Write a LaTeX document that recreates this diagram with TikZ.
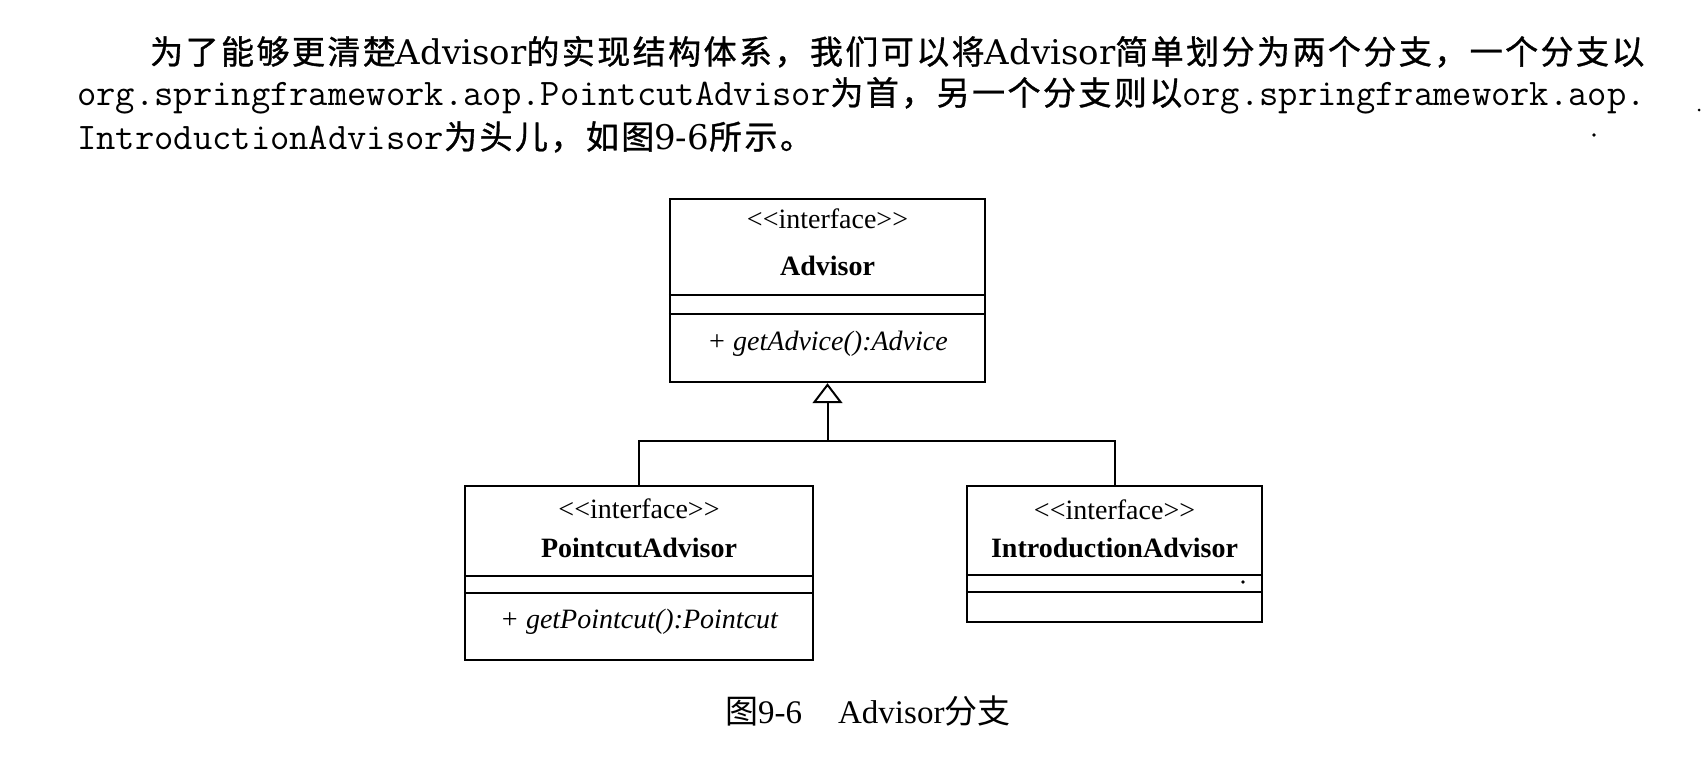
\documentclass[tikz,border=0pt]{standalone}
\usepackage{fontspec}
\setmainfont{Liberation Serif}
\newfontfamily\cjk{Noto Sans CJK SC}
\newfontfamily\cjkw[LetterSpace=7.4, FakeBold=1]{Noto Sans CJK SC}
\newfontfamily\latfam{DejaVu Serif}
\newcommand\monotxt[1]{{\ttfamily\fontsize{37.5}{40}\selectfont #1}}
\newcommand\lattxt[1]{{\latfam\fontsize{34}{38}\selectfont #1}}
\usetikzlibrary{arrows.meta}
\tikzset{
  para/.style={anchor=base west, inner sep=0pt, font=\fontsize{33}{38}\selectfont},
  umlbox/.style={draw, line width=2.4pt, inner sep=0pt, rectangle},
  sepline/.style={line width=1.6pt},
  conn/.style={line width=2pt},
  utext/.style={inner sep=0pt, font=\fontsize{28}{33}\selectfont},
  captext/.style={anchor=base west, inner sep=0pt, font=\fontsize{33}{40}\selectfont},
}
\begin{document}
\begin{tikzpicture}[x=1pt, y=-1pt]
\fill[white] (0,0) rectangle (1704,772);
\useasboundingbox (0,0) rectangle (1704,772);

% paragraph text
\node[para] (l1) at (150,64) {{\cjkw 为了能够更清楚}\lattxt{Advisor}{\cjkw 的实现结构体系，我们可以将}\lattxt{Advisor}{\cjkw 简单划分为两个分支，一个分支以}};
\node[para] (l2) at (77,105) {\monotxt{org.springframework.aop.PointcutAdvisor}{\cjkw 为首，另一个分支则以}\monotxt{org.springframework.aop.}};
\node[para] (l3) at (77,149) {\monotxt{IntroductionAdvisor}{\cjkw 为头儿，如图}\lattxt{9-6}{\cjkw 所示。}};

% specks of the scan
\fill (1594,135) circle (1.8);
\fill (1699,110) circle (1.5);

% Advisor
\node[umlbox, minimum width=315pt, minimum height=183pt] (adv) at (827.5,290.5) {};
\draw[sepline] (adv.west |- 0,295) -- (adv.east |- 0,295);
\draw[sepline] (adv.west |- 0,314) -- (adv.east |- 0,314);
\node[utext] (advst) at (827.5,219) {<{}<interface>{}>};
\node[utext] (advnm) at (827.5,266) {\bfseries Advisor};
\node[utext] (advop) at (827.5,344) {\itshape + getAdvice():Advice};

% PointcutAdvisor
\node[umlbox, minimum width=348pt, minimum height=174pt] (pa) at (639,573) {};
\draw[sepline] (pa.west |- 0,576) -- (pa.east |- 0,576);
\draw[sepline] (pa.west |- 0,593) -- (pa.east |- 0,593);
\node[utext] (past) at (639,509) {<{}<interface>{}>};
\node[utext] (panm) at (639,548) {\bfseries PointcutAdvisor};
\node[utext] (paop) at (639,622) {\itshape + getPointcut():Pointcut};

% IntroductionAdvisor
\node[umlbox, minimum width=295pt, minimum height=136pt] (ia) at (1114.5,554) {};
\draw[sepline] (ia.west |- 0,575) -- (ia.east |- 0,575);
\draw[sepline] (ia.west |- 0,592) -- (ia.east |- 0,592);
\node[utext] (iast) at (1114.5,510) {<{}<interface>{}>};
\node[utext] (ianm) at (1114.5,548) {\bfseries IntroductionAdvisor};
\fill (1243,582) circle (1.8);

% connectors
\coordinate (j) at (827.5,441);
\draw[conn] (pa.north) |- (j) -| (ia.north);
\draw[conn, -{Triangle[open, width=30pt, length=20pt]}] (j) -- (adv.south);

% caption
\node[captext] (cap) at (725,723) {{\cjk 图}9-6\hspace{36pt}Advisor{\cjk 分支}};
\end{tikzpicture}
\end{document}
